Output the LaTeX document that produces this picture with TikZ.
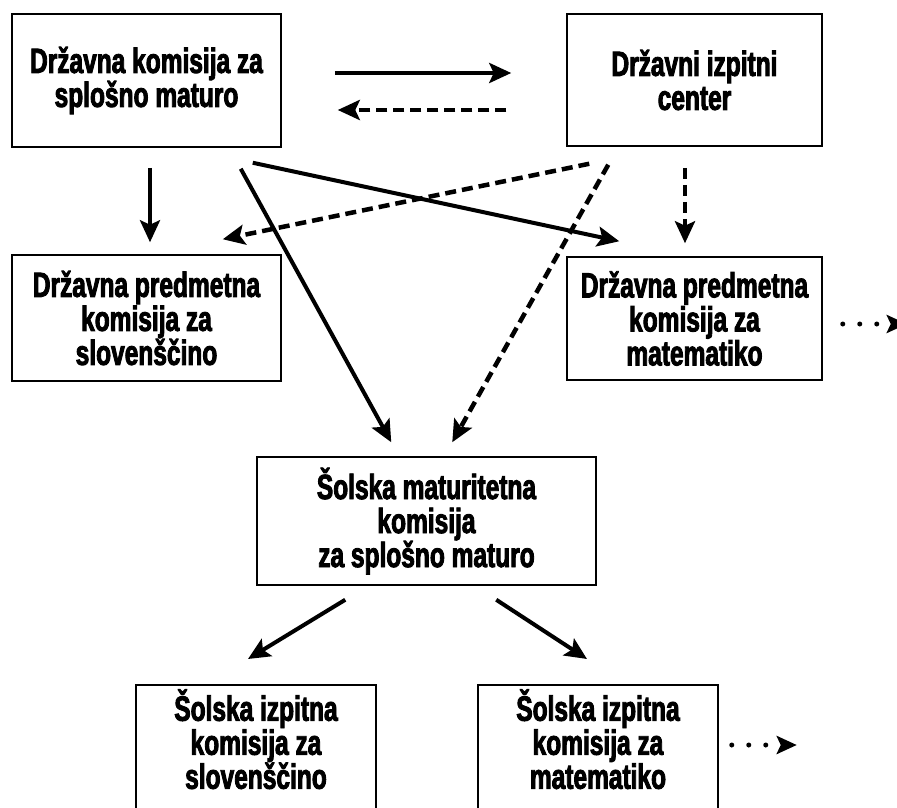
\documentclass[tikz,border=0pt]{standalone}
\usepackage{fontspec}
\setmainfont{Liberation Sans}[FakeStretch=0.7,FakeBold=2.5]
\usetikzlibrary{arrows.meta,calc}
\newcommand{\hstr}{\rule{0pt}{36pt}}
\newcommand{\dstr}{\rule[-100pt]{0pt}{0pt}}
\begin{document}
\begin{tikzpicture}[x=1pt,y=-1pt,
  box/.style={draw, line width=1.5pt, inner sep=0pt, align=center,
    font=\bfseries\fontsize{35}{34}\selectfont},
  lowbox/.style={box, anchor=north, minimum width=240pt},
  solidarrow/.style={line width=4pt, -{Stealth[length=22pt,width=20pt,inset=4.5pt]}},
  dasharrow/.style={solidarrow, line width=4.5pt, dash pattern=on 11pt off 6pt},
  dotarrow/.style={line width=5pt, line cap=round, dash pattern=on 0pt off 17pt,
    -{Stealth[length=20pt,width=18pt,inset=4pt,line cap=butt]}}]
\useasboundingbox (0,0) rectangle (897,808);
\clip (0,0) rectangle (897,808);
\fill[white] (0,0) rectangle (897,808);

\node[box, minimum width=269pt, minimum height=133pt] (A) at (146.5,80.5)
  {Državna komisija za\\splošno maturo};
\node[box, minimum width=255pt, minimum height=132pt] (B) at (694.5,80)
  {Državni izpitni\\center};
\node[box, minimum width=269pt, minimum height=126pt] (C) at (146.5,318)
  {Državna predmetna\\komisija za\\slovenščino};
\node[box, minimum width=255pt, minimum height=123pt] (D) at (694.5,318.5)
  {Državna predmetna\\komisija za\\matematiko};
\node[box, minimum width=339pt, minimum height=128pt] (E) at (426.5,521)
  {Šolska maturitetna\\komisija\\za splošno maturo};
\node[lowbox] (F) at (256,684)
  {\hstr Šolska izpitna\\komisija za\\slovenščino\dstr};
\node[lowbox] (G) at (598,684)
  {\hstr Šolska izpitna\\komisija za\\matematiko\dstr};

\draw[solidarrow] ($(A.east)+(53,-7.5)$) -- ($(B.west)+(-55,-7)$);
\draw[dasharrow] ($(B.west)+(-60,30)$) -- ($(A.east)+(56,29.5)$);
\draw[solidarrow] ($(A.south)+(3.5,20)$) -- ($(C.north)+(3.5,-12)$);
\draw[solidarrow] ($(A.south east)+(-29,15)$) -- ($(D.north west)+(53,-15)$);
\draw[solidarrow] ($(A.south east)+(-41,21)$) -- ($(E.north west)+(135,-14)$);
\draw[dasharrow] ($(B.south west)+(23,17)$) -- ($(C.north east)+(-59,-15)$);
\draw[dasharrow] ($(B.south west)+(42,18)$) -- ($(E.north west)+(196,-14)$);
\draw[dasharrow] ($(B.south)+(-9.5,21)$) -- ($(D.north)+(-9.5,-13)$);
\draw[solidarrow] ($(E.south west)+(89,14)$) -- ($(F.north)+(-8,-25)$);
\draw[solidarrow] ($(E.south west)+(240,14)$) -- ($(G.north)+(-11,-25)$);

\coordinate (gdots) at ($(G.north east)+(13,61)$);
\coordinate (gend) at ($(G.north east)+(78,61)$);
\draw[dotarrow] (gdots) -- (gend);
\coordinate (ddots) at ($(D.east)+(20,5.5)$);
\coordinate (dend) at ($(D.east)+(84,5.5)$);
\draw[dotarrow] (ddots) -- (dend);
\end{tikzpicture}
\end{document}
